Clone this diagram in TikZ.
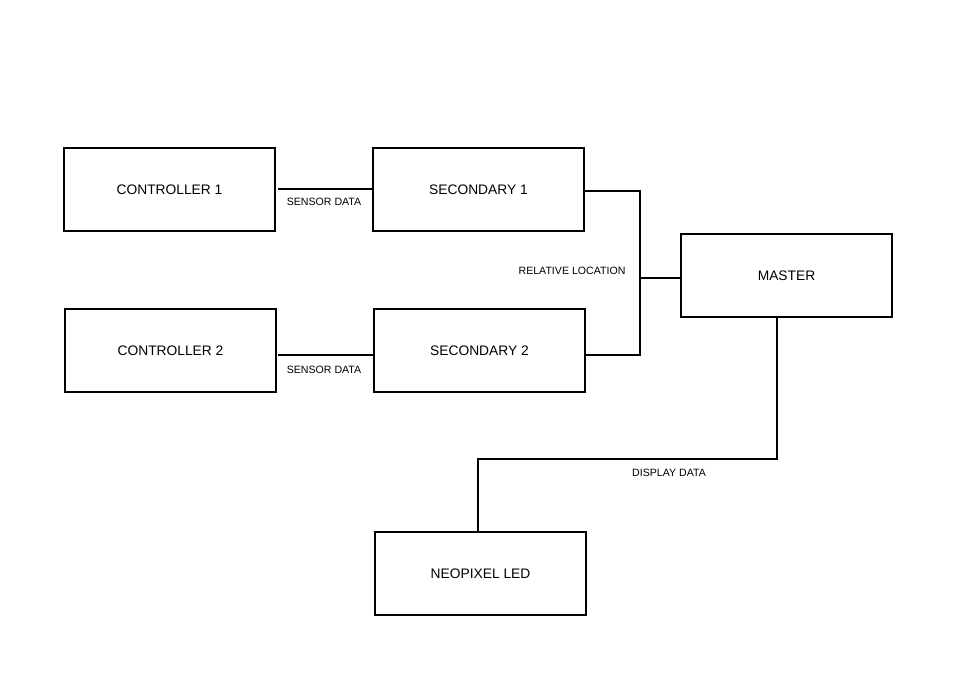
\documentclass[tikz,border=0pt]{standalone}
\usepackage{fontspec}
\setmainfont{Liberation Sans}
\begin{document}
\begin{tikzpicture}[x=1pt,y=-1pt,
  blk/.style={draw=black,line width=2pt,minimum width=211pt,minimum height=83pt,inner sep=0pt,font=\fontsize{13.8}{15}\selectfont},
  lbl/.style={font=\fontsize{10.6}{12}\selectfont,inner sep=0pt},
  conn/.style={draw=black,line width=2pt}]
\useasboundingbox (0,0) rectangle (960,700);
\fill[white] (0,0) rectangle (960,700);
\node[blk] (c1) at (169.5,189.5) {CONTROLLER 1};
\node[blk] (s1) at (478.5,189.5) {SECONDARY 1};
\node[blk] (c2) at (170.5,350.5) {CONTROLLER 2};
\node[blk] (s2) at (479.5,350.5) {SECONDARY 2};
\node[blk] (m) at (786.5,275.5) {MASTER};
\node[blk] (n) at (480.5,573.5) {NEOPIXEL LED};
\node[lbl] (l1) at (324,202) {SENSOR DATA};
\node[lbl] (l2) at (324,370) {SENSOR DATA};
\node[lbl] (l3) at (572,271) {RELATIVE LOCATION};
\node[lbl] (l4) at (669,473) {DISPLAY DATA};
\coordinate (k1) at (300,189);
\coordinate (k2) at (300,355);
\coordinate (a1) at (640,191);
\coordinate (a2) at (640,355);
\coordinate (aj) at (640,278);
\coordinate (b1) at (777,459);
\coordinate (b2) at (478,459);
\draw[conn] ([xshift=2pt]c1.east |- k1) -- (s1.west |- k1);
\draw[conn] ([xshift=1pt]c2.east |- k2) -- (s2.west |- k2);
\draw[conn] (s1.east |- a1) -- (a1) -- (a2) -- (s2.east |- a2);
\draw[conn] (aj) -- (m.west |- aj);
\draw[conn] (m.south -| b1) -- (b1) -- (b2) -- (n.north -| b2);
\end{tikzpicture}
\end{document}
